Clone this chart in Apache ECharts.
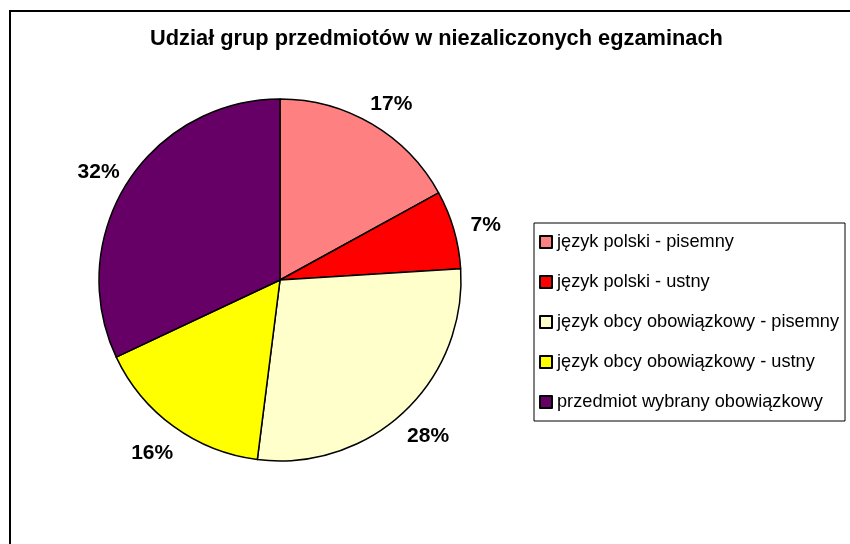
<!DOCTYPE html>
<html>
<head>
<meta charset="utf-8">
<script src="https://cdn.jsdelivr.net/npm/echarts@6/dist/echarts.min.js"></script>
<style>
    html, body { margin: 0; padding: 0; background: #fff; }
    #chart { width: 850px; height: 544px; }
</style>
</head>
<body>
<div id="chart"></div>
<script>
const titleText = 'Udział grup przedmiotów w niezaliczonych egzaminach';
const categories = [
    'język polski - pisemny',
    'język polski - ustny',
    'język obcy obowiązkowy - pisemny',
    'język obcy obowiązkowy - ustny',
    'przedmiot wybrany obowiązkowy'
];
const values = [17, 7, 28, 16, 32];
const colors = ['#ff8080', '#ff0000', '#ffffcc', '#ffff00', '#660066'];

(function () {
    const myChart = echarts.init(document.getElementById('chart'));
    const font = '"Liberation Sans", Arial, sans-serif';

    const option = {
        backgroundColor: '#fff',
        animation: false,
        color: colors,
        graphic: [{
            type: 'rect',
            shape: { x: 10, y: 11, width: 1000, height: 700 },
            style: { fill: 'none', stroke: '#000', lineWidth: 2 },
            silent: true
        }],
        title: {
            text: titleText,
            left: 145,
            top: 23,
            textStyle: {
                fontFamily: font,
                fontSize: 21.8,
                fontWeight: 'bold',
                color: '#000'
            }
        },
        legend: {
            orient: 'vertical',
            left: 534,
            top: 223,
            padding: [10, 6, 10, 5],
            itemGap: 22,
            itemWidth: 12,
            itemHeight: 12,
            icon: 'rect',
            borderColor: '#000',
            borderWidth: 1,
            textStyle: {
                fontFamily: font,
                fontSize: 18.2,
                color: '#000'
            },
            data: categories
        },
        series: [
            {
                type: 'pie',
                center: [280, 280],
                radius: 181,
                startAngle: 90,
                clockwise: true,
                avoidLabelOverlap: false,
                data: categories.map(function (name, i) {
                    return { name: name, value: values[i] };
                }),
                itemStyle: {
                    borderColor: '#000',
                    borderWidth: 1.5
                },
                label: {
                    show: true,
                    position: 'outside',
                    formatter: '{d}%',
                    fontFamily: font,
                    fontSize: 21,
                    fontWeight: 'bold',
                    color: '#000'
                },
                labelLine: {
                    show: false,
                    length: 28,
                    length2: 0
                },
                // centre each label on its anchor point, as in the original
                labelLayout: function () {
                    return { align: 'center', dy: 4 };
                },
                emphasis: { disabled: true }
            }
        ]
    };

    myChart.setOption(option);
    window.addEventListener('resize', function () {
        myChart.resize();
    });
})();
</script>
</body>
</html>
